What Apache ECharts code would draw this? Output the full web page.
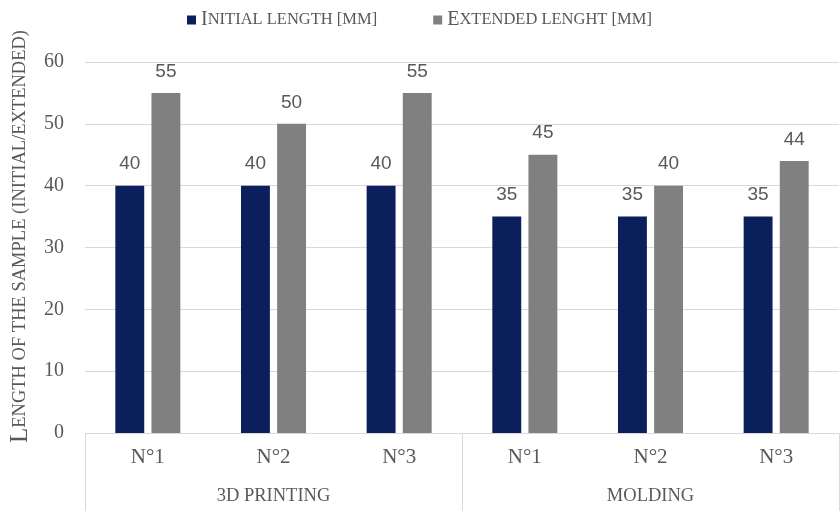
<!DOCTYPE html>
<html>
<head>
<meta charset="utf-8">
<script src="https://cdn.jsdelivr.net/npm/echarts@6/dist/echarts.min.js"></script>
<style>
  html, body { margin: 0; padding: 0; background: #fff; }
  #chart { width: 840px; height: 511px; }
</style>
</head>
<body>
<div id="chart"></div>
<script>
// Sample lengths before and after extension, grouped by manufacturing method
const categories = ['N°1', 'N°2', 'N°3', 'N°1', 'N°2', 'N°3'];
const groups = ['3D PRINTING', 'MOLDING'];
const initialLength = [40, 40, 40, 35, 35, 35];
const extendedLength = [55, 50, 55, 45, 40, 44];
const seriesNames = ['Initial length [mm]', 'Extended lenght [mm]'];
const yTicks = [0, 10, 20, 30, 40, 50, 60];

const serif = '"Liberation Serif", "DejaVu Serif", serif';
const sans = '"Liberation Sans", Arial, sans-serif';
const textGray = '#595959';

// Small caps: first letter full height, the rest as smaller capitals
function smallCaps(str, big, small) {
  return '{' + big + '|' + str[0].toUpperCase() + '}{' + small + '|' + str.slice(1).toUpperCase() + '}';
}

const chart = echarts.init(document.getElementById('chart'));
chart.setOption({
  animation: false,
  color: ['#0b1f5c', '#808080'],
  legend: {
    top: 5,
    left: 182,
    itemWidth: 9,
    itemHeight: 9,
    itemGap: 56,
    icon: 'rect',
    data: seriesNames,
    formatter: name => smallCaps(name, 'big', 'small'),
    textStyle: {
      color: textGray,
      rich: {
        big: { fontFamily: serif, fontSize: 20, color: textGray },
        small: { fontFamily: serif, fontSize: 16.5, color: textGray }
      }
    }
  },
  grid: { left: 83, right: 1, top: 62, bottom: 78, containLabel: false },
  xAxis: [
    {
      type: 'category',
      data: categories,
      position: 'bottom',
      axisLine: { show: true, lineStyle: { color: '#d9d9d9', width: 1 } },
      axisTick: { show: false },
      axisLabel: { fontFamily: serif, fontSize: 21, color: textGray, margin: 14 }
    },
    {
      type: 'category',
      data: groups,
      position: 'bottom',
      axisLine: { show: false },
      axisTick: { show: true, length: 80, lineStyle: { color: '#d9d9d9', width: 1 } },
      axisLabel: { fontFamily: serif, fontSize: 18.5, color: textGray, margin: 54 }
    }
  ],
  yAxis: {
    type: 'value',
    min: yTicks[0],
    max: yTicks[yTicks.length - 1],
    interval: 10,
    axisLine: { show: false },
    axisTick: { show: false },
    axisLabel: { fontFamily: serif, fontSize: 20, color: textGray, margin: 21 },
    splitLine: { lineStyle: { color: '#d9d9d9', width: 1 } },
    name: smallCaps('Length of the sample (initial/extended)', 'big', 'small'),
    nameLocation: 'middle',
    nameGap: 52,
    nameTextStyle: {
      color: textGray,
      padding: [0, 0, 0, 22],
      rich: {
        big: { fontFamily: serif, fontSize: 25, color: textGray },
        small: { fontFamily: serif, fontSize: 18.5, color: textGray }
      }
    }
  },
  series: [
    {
      name: seriesNames[0],
      type: 'bar',
      xAxisIndex: 0,
      data: initialLength,
      barWidth: '23%',
      barGap: '25%',
      label: { show: true, position: 'top', distance: 12, fontFamily: sans, fontSize: 19, color: textGray }
    },
    {
      name: seriesNames[1],
      type: 'bar',
      xAxisIndex: 0,
      data: extendedLength,
      barWidth: '23%',
      barGap: '25%',
      label: { show: true, position: 'top', distance: 12, fontFamily: sans, fontSize: 19, color: textGray }
    }
  ]
});
</script>
</body>
</html>
